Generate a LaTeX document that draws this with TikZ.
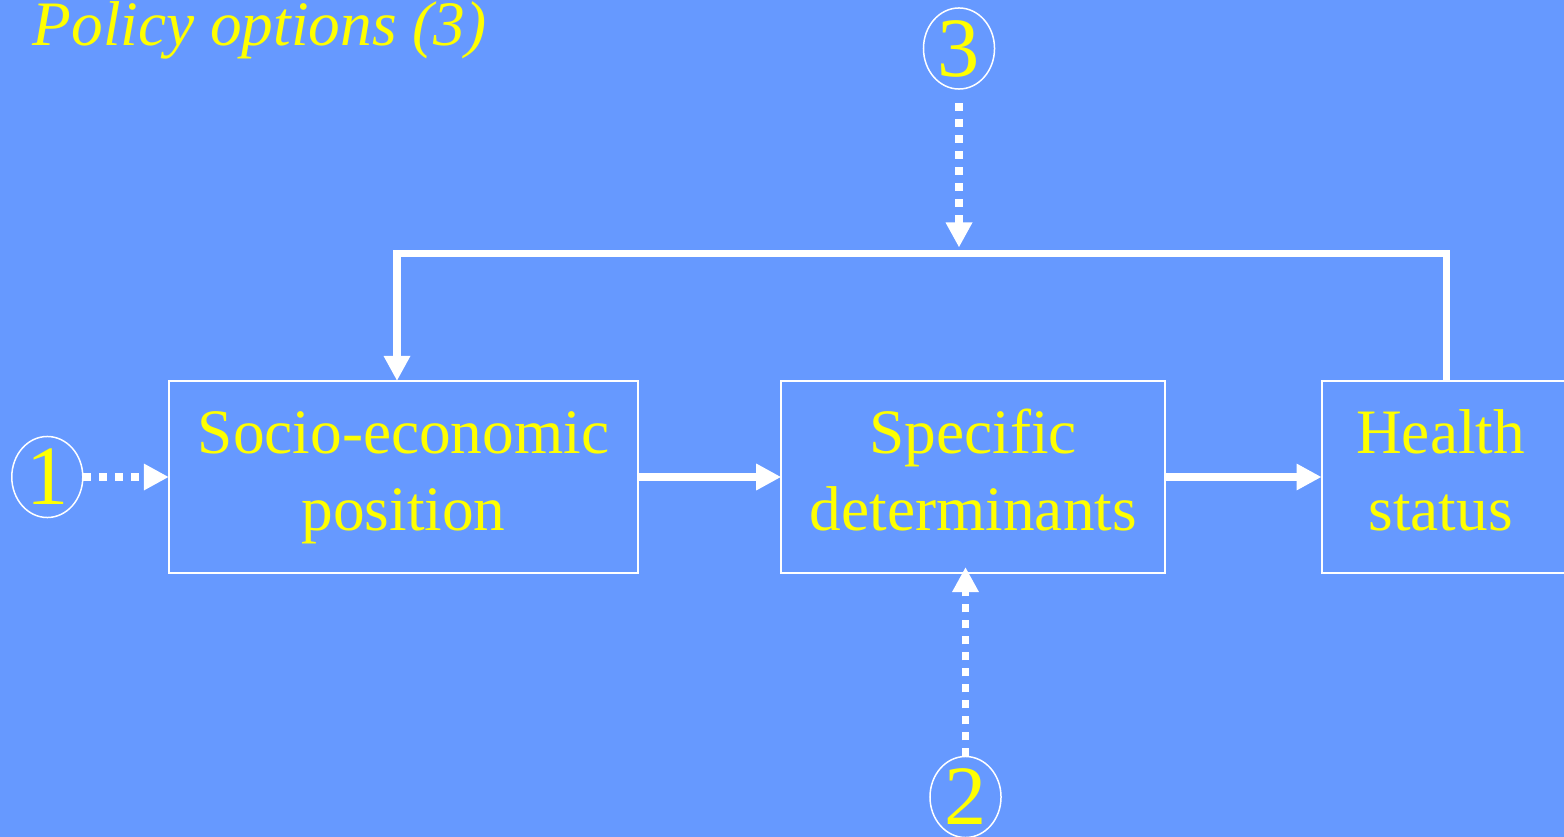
\documentclass[tikz,border=0pt]{standalone}
\usepackage{fontspec}
\setmainfont{Liberation Serif}
\usetikzlibrary{arrows.meta, shapes.geometric, positioning}
\definecolor{slideblue}{HTML}{6699FF}
\definecolor{slideyellow}{HTML}{FFFF00}

\begin{document}
\begin{tikzpicture}[x=0.01cm, y=-0.01cm, >={Triangle[length=0.25cm,width=0.25cm]}, node distance=1.43cm,
    box/.style={draw=white, line width=0.02cm, outer sep=0pt, text=slideyellow, align=center, minimum height=1.92cm, inner sep=0pt, font=\fontsize{18pt}{21.9pt}\selectfont},
    num/.style={ellipse, draw=white, line width=0.015cm, outer sep=0pt, minimum width=0.71cm, minimum height=0.81cm, inner sep=0pt, text=slideyellow, font=\fontsize{24pt}{24pt}\selectfont},
    flow/.style={->, white, line width=0.075cm},
    hint/.style={flow, dash pattern=on 0.08cm off 0.08cm}]

    \fill[slideblue] (0,0) rectangle (1564,837);
    \useasboundingbox (0,0) rectangle (1564,837);

    \node[anchor=base west, text=slideyellow, inner sep=0pt, font=\fontsize{18pt}{21.9pt}\selectfont\itshape] (title) at (32,46) {Policy options (3)};

    \node[box, minimum width=4.69cm] (sep) at (403.5,477) {\strut Socio-economic\\\strut position};
    \node[box, minimum width=3.84cm] (sd)  [right=of sep]       {\strut Specific\\\strut determinants};
    \node[box, minimum width=2.50cm] (hs)  [right=1.56cm of sd] {\strut Health\hspace*{0.12cm}\\\strut status\hspace*{0.12cm}};

    \node[num] (one)   [left=0.86cm of sep] {1};
    \node[num] (three) at (959,48.5)        {3};
    \node[num] (two)   at (965.5,797)       {2};

    \coordinate (loop) at (397,253.5);

    \path[flow] (sep) edge (sd)
                (sd)  edge (hs);
    \path[hint] (one) edge (sep);
    \draw[flow] (hs.north) |- (loop) -- (loop |- sep.north);
    \draw[hint, shorten >=0.06cm] ([yshift=-0.14cm]three.south) -- (three |- loop);
    \draw[hint, shorten >=-0.06cm] (two.north) -- (two |- sd.south);
\end{tikzpicture}
\end{document}
